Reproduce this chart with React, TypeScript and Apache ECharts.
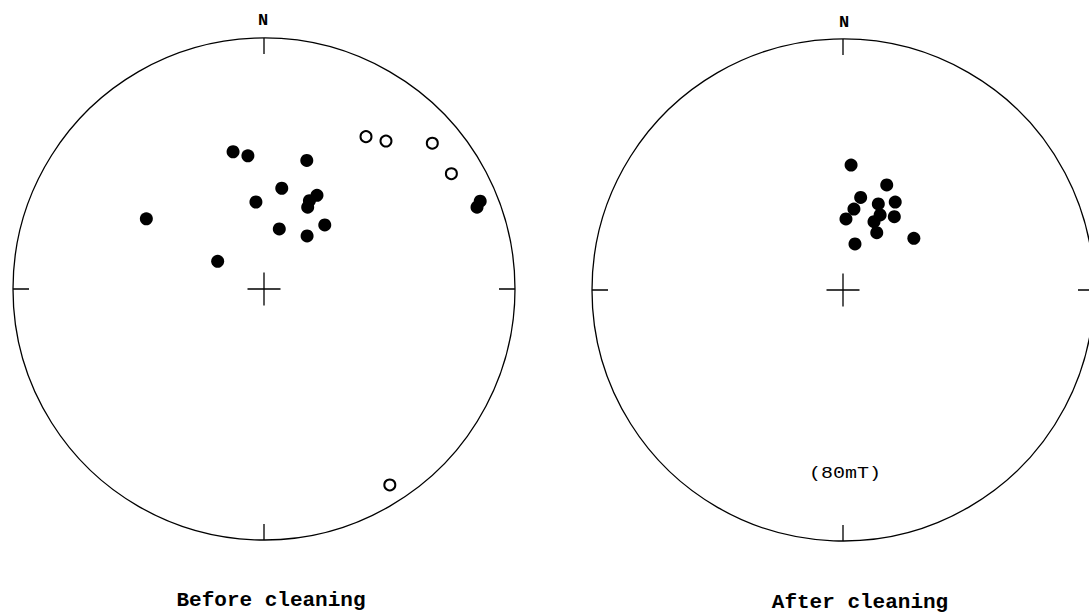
import React, { useEffect, useRef } from "react";
import * as echarts from "echarts";

// Before cleaning: lower-hemisphere (filled) directions
const beforeDownDec = [347.3, 353.1, 18.4, 10.0, 354.7, 29.5, 27.2, 28.1, 300.8, 14.3, 43.5, 39.1, 300.9, 67.9, 69.0];
const beforeDownInc = [43.3, 45.6, 45.1, 56.5, 61.5, 54.7, 57.5, 59.7, 44.6, 69.9, 61.2, 67.8, 72.5, 7.8, 10.0];
// Before cleaning: upper-hemisphere (open) directions
const beforeUpDec = [33.8, 39.5, 49.1, 58.4, 147.3];
const beforeUpInc = [-27.8, -24.6, -12.3, -13.4, -8.0];
// After cleaning (80 mT)
const afterDec = [3.7, 22.6, 10.8, 7.7, 2.4, 22.3, 30.7, 35.0, 26.3, 24.4, 30.5, 14.6, 53.9];
const afterInc = [48.7, 52.6, 59.2, 63.4, 66.9, 59.6, 56.5, 60.8, 62.7, 65.6, 68.4, 74.6, 61.4];

const panelTitles = ["Before cleaning", "After cleaning"];
const northLabel = "N";
const stepLabel = "(80mT)";

// Schmidt equal-area projection: radial distance (0..1) from inclination
const eqArea = (inc: number) =>
  Math.SQRT2 * Math.sin(((90 - Math.abs(inc)) / 2) * (Math.PI / 180));
const toPolar = (decs: number[], incs: number[]) =>
  decs.map((d, i) => [eqArea(incs[i]), d]);

const FONT = "'Liberation Mono', 'DejaVu Sans Mono', monospace";

export default function App() {
  const ref = useRef<HTMLDivElement>(null);
  useEffect(() => {
    if (!ref.current) return;
    const chart = echarts.init(ref.current, null, { renderer: "svg" });
    const angleAxis = (idx: number) => ({
      polarIndex: idx,
      type: "value",
      min: 0,
      max: 360,
      interval: 90,
      startAngle: 90,
      clockwise: true,
      axisLine: { show: true, lineStyle: { color: "#000", width: 1.3 } },
      axisTick: { show: true, inside: true, length: 16, lineStyle: { color: "#000", width: 1.3 } },
      axisLabel: { show: false },
      splitLine: { show: false },
    });
    const radiusAxis = (idx: number) => ({
      polarIndex: idx,
      type: "value",
      min: 0,
      max: 1,
      show: false,
      axisLine: { show: false },
      axisTick: { show: false },
      axisLabel: { show: false },
      splitLine: { show: false },
    });
    const cross = (idx: number) => ({
      type: "scatter",
      coordinateSystem: "polar",
      polarIndex: idx,
      silent: true,
      symbol: "path://M0,16 L32,16 M16,0 L16,32",
      symbolSize: 33,
      itemStyle: { color: "none", borderColor: "#000", borderWidth: 1.3, opacity: 1 },
      data: [[0, 0]],
      z: 1,
    });
    const filled = (idx: number, data: number[][]) => ({
      type: "scatter",
      coordinateSystem: "polar",
      polarIndex: idx,
      symbol: "circle",
      symbolSize: 13,
      itemStyle: { color: "#000", opacity: 1 },
      data,
      z: 3,
    });
    chart.setOption({
      animation: false,
      backgroundColor: "#fff",
      polar: [
        { center: [264, 289], radius: 251 },
        { center: [843, 290], radius: 251 },
      ],
      angleAxis: [angleAxis(0), angleAxis(1)],
      radiusAxis: [radiusAxis(0), radiusAxis(1)],
      series: [
        cross(0),
        cross(1),
        filled(0, toPolar(beforeDownDec, beforeDownInc)),
        {
          type: "scatter",
          coordinateSystem: "polar",
          polarIndex: 0,
          symbol: "circle",
          symbolSize: 11,
          itemStyle: { color: "#fff", borderColor: "#000", borderWidth: 2, opacity: 1 },
          data: toPolar(beforeUpDec, beforeUpInc),
          z: 3,
        },
        filled(1, toPolar(afterDec, afterInc)),
      ],
      graphic: [
        { type: "text", x: 263, y: 20, style: { text: northLabel, font: `bold 17px ${FONT}`, fill: "#000", textAlign: "center", textVerticalAlign: "middle" } },
        { type: "text", x: 844, y: 22, style: { text: northLabel, font: `bold 17px ${FONT}`, fill: "#000", textAlign: "center", textVerticalAlign: "middle" } },
        { type: "text", x: 845, y: 474, scaleX: 1.25, style: { text: stepLabel, font: `16px ${FONT}`, fill: "#000", textAlign: "center", textVerticalAlign: "middle" } },
        { type: "text", x: 271, y: 600, style: { text: panelTitles[0], font: `bold 21px ${FONT}`, fill: "#000", textAlign: "center", textVerticalAlign: "middle" } },
        { type: "text", x: 860, y: 602, style: { text: panelTitles[1], font: `bold 21px ${FONT}`, fill: "#000", textAlign: "center", textVerticalAlign: "middle" } },
      ],
    });
    return () => chart.dispose();
  }, []);
  return (
    <div
      ref={ref}
      style={{ position: "fixed", left: 0, top: 0, width: 1089, height: 612, background: "#fff" }}
    />
  );
}
